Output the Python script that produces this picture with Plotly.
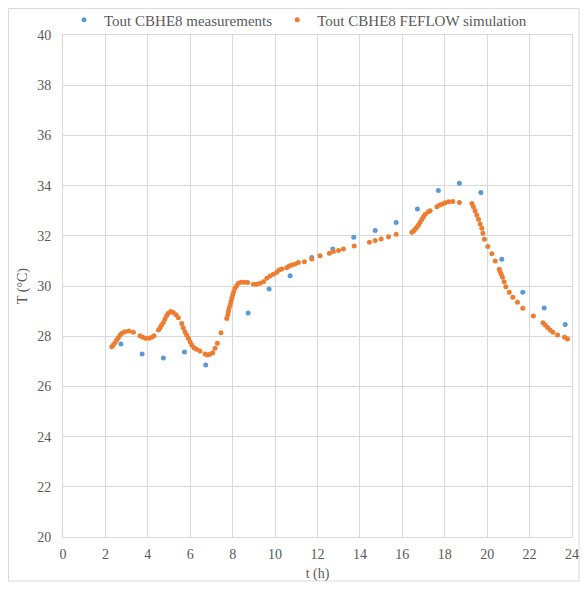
import plotly.graph_objects as go

# Measurements (blue)
meas_t = [2.73, 3.73, 4.73, 5.73, 6.73, 8.73, 9.72, 10.71, 11.73, 12.72, 13.71,
          14.72, 15.71, 16.71, 17.70, 18.69, 19.70, 20.69, 21.68, 22.69, 23.68]
meas_T = [27.69, 27.29, 27.13, 27.37, 26.85, 28.92, 29.88, 30.41, 31.14, 31.47, 31.94,
          32.21, 32.53, 33.07, 33.80, 34.09, 33.73, 31.07, 29.75, 29.12, 28.47]

# FEFLOW simulation (orange)
sim_t = [2.30, 2.37, 2.45, 2.53, 2.61, 2.69, 2.78, 2.92, 3.11, 3.32, 3.63, 3.76, 3.90,
         4.06, 4.18, 4.29, 4.50, 4.58, 4.65, 4.73, 4.81, 4.89, 4.97, 5.08, 5.20, 5.33,
         5.44, 5.60, 5.67, 5.75, 5.83, 5.91, 5.99, 6.07, 6.18, 6.30, 6.46, 6.70, 6.81,
         6.93, 7.06, 7.17, 7.28, 7.45, 7.72, 7.77, 7.80, 7.83, 7.88, 7.92, 7.96, 8.00,
         8.05, 8.11, 8.19, 8.27, 8.40, 8.55, 8.71, 8.98, 9.14, 9.29, 9.45, 9.61, 9.76,
         9.92, 10.08, 10.19, 10.32, 10.55, 10.66, 10.79, 10.94, 11.10, 11.38, 11.73,
         12.12, 12.56, 12.75, 12.99, 13.22, 13.73, 14.45, 14.72, 15.00, 15.35, 15.71,
         16.45, 16.53, 16.60, 16.68, 16.76, 16.84, 16.92, 17.00, 17.08, 17.23, 17.31,
         17.63, 17.75, 17.89, 18.02, 18.18, 18.38, 18.69, 19.28, 19.35, 19.43, 19.51,
         19.59, 19.67, 19.75, 19.80, 19.87, 20.03, 20.22, 20.38, 20.57, 20.61, 20.66,
         20.72, 20.80, 20.88, 21.04, 21.21, 21.43, 21.68, 22.18, 22.63, 22.74, 22.85,
         22.97, 23.10, 23.32, 23.65, 23.79]
sim_T = [27.58, 27.65, 27.74, 27.85, 27.94, 28.05, 28.12, 28.18, 28.21, 28.16, 28.02, 27.96, 27.92,
         27.92, 27.96, 28.02, 28.25, 28.34, 28.45, 28.55, 28.69, 28.82, 28.91, 28.98, 28.94, 28.85,
         28.74, 28.51, 28.34, 28.18, 28.05, 27.92, 27.78, 27.65, 27.54, 27.48, 27.41, 27.29, 27.25,
         27.28, 27.34, 27.52, 27.72, 28.14, 28.71, 28.84, 28.98, 29.11, 29.24, 29.37, 29.51, 29.64,
         29.77, 29.91, 30.01, 30.11, 30.15, 30.15, 30.14, 30.07, 30.07, 30.11, 30.17, 30.31, 30.40,
         30.47, 30.55, 30.64, 30.68, 30.73, 30.80, 30.84, 30.88, 30.94, 30.97, 31.08,
         31.21, 31.30, 31.37, 31.41, 31.47, 31.59, 31.74, 31.81, 31.87, 31.96, 32.06,
         32.14, 32.19, 32.26, 32.34, 32.43, 32.54, 32.66, 32.76, 32.86, 32.96, 33.00,
         33.16, 33.23, 33.27, 33.32, 33.36, 33.37, 33.33, 33.29, 33.16, 33.00, 32.83,
         32.66, 32.47, 32.30, 32.10, 31.86, 31.57, 31.28, 31.00, 30.67, 30.57, 30.48,
         30.35, 30.17, 29.97, 29.75, 29.55, 29.35, 29.11, 28.80, 28.54, 28.45, 28.35,
         28.25, 28.16, 28.05, 27.96, 27.89]

x_ticks = list(range(0, 25, 2))
y_ticks = list(range(20, 41, 2))

FONT = "Liberation Serif"
GREY = "#595959"
GRID = "#d9d9d9"

fig = go.Figure()
fig.add_trace(go.Scatter(x=meas_t, y=meas_T, mode="markers",
                         name="Tout CBHE8 measurements",
                         marker=dict(color="#5B9BD5", size=5)))
fig.add_trace(go.Scatter(x=sim_t, y=sim_T, mode="markers",
                         name="Tout CBHE8 FEFLOW simulation",
                         marker=dict(color="#ED7D31", size=5)))

# page offset from default body margin
OFF = 8
W, H = 572, 574
# target plot area in page pixels
PL, PR, PT, PB = 63, 572, 35, 537
L = PL - OFF
T = PT - OFF
R = W - (PR - OFF)
B = H - (PB - OFF)
pw, ph = W - L - R, H - T - B

def px2paper_x(px):
    return (px - OFF - L) / pw

def px2paper_y(py):
    return (H - B - (py - OFF)) / ph

fig.add_shape(type="rect", xref="paper", yref="paper",
              x0=px2paper_x(8.5), x1=px2paper_x(579),
              y0=px2paper_y(581), y1=px2paper_y(8.5),
              line=dict(color=GRID, width=1), layer="below")

fig.update_layout(
    width=W, height=H,
    margin=dict(l=L, r=R, t=T, b=B, autoexpand=False),
    paper_bgcolor="white", plot_bgcolor="white",
    font=dict(family=FONT, color=GREY, size=14),
    showlegend=True,
    legend=dict(orientation="h", x=px2paper_x(298), xanchor="center",
                y=px2paper_y(20), yanchor="middle",
                font=dict(family=FONT, size=15, color=GREY),
                itemwidth=30, tracegroupgap=0, bgcolor="rgba(0,0,0,0)"),
    xaxis=dict(range=[0, 24], tickvals=x_ticks, showgrid=True, gridcolor=GRID,
               showline=True, linecolor=GRID, zeroline=False, ticks="", automargin=False,
               ticklabelstandoff=4,
               title=dict(text="t (h)", font=dict(family=FONT, size=14, color=GREY), standoff=12),
               tickfont=dict(family=FONT, size=14, color=GREY), mirror=True),
    yaxis=dict(range=[20, 40], tickvals=y_ticks, showgrid=True, gridcolor=GRID,
               showline=True, linecolor=GRID, zeroline=False, ticks="", automargin=False,
               ticklabelstandoff=8,
               title=dict(text="T (°C)", font=dict(family=FONT, size=14, color=GREY), standoff=6),
               tickfont=dict(family=FONT, size=14, color=GREY), mirror=True),
)

fig.write_html("out.html")
